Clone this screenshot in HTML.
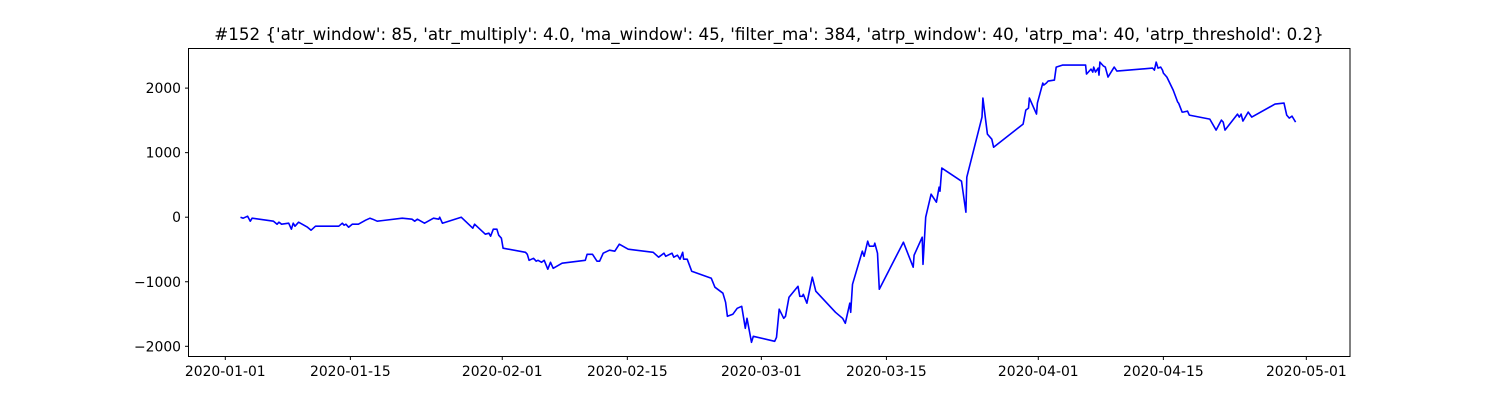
<!DOCTYPE html>
<html><head><meta charset="utf-8"><style>
html,body{margin:0;padding:0;background:#fff;}
svg{display:block;font-family:"DejaVu Sans","Liberation Sans",sans-serif;}
</style></head><body>
<svg id="chart" width="1500" height="400" viewBox="0 0 1500 400" xmlns="http://www.w3.org/2000/svg">
<rect x="0" y="0" width="1500" height="400" fill="#fff"/>
<text x="769" y="40" text-anchor="middle" font-size="16.7" fill="#000">#152 {'atr_window': 85, 'atr_multiply': 4.0, 'ma_window': 45, 'filter_ma': 384, 'atrp_window': 40, 'atrp_ma': 40, 'atrp_threshold': 0.2}</text>
<g id="ticks"></g>
<path id="line" fill="none" stroke="#0000ff" stroke-width="1.6" stroke-linejoin="round"/>
<rect x="188.5" y="48.5" width="1161.5" height="308" fill="none" stroke="#000" stroke-width="1"/>
</svg>
<script>
// days since 2020-01-01
const days = [1.7,2.0,2.5,2.8,3.0,5.4,5.8,6.0,6.3,7.1,7.4,7.6,7.8,8.2,9.2,9.6,10.1,12.7,13.1,13.3,13.5,13.8,14.2,14.9,15.7,16.2,16.5,17.0,19.8,20.9,21.2,21.5,22.3,23.3,23.9,24.0,24.3,26.4,27.7,27.9,29.1,29.5,29.7,30.0,30.4,30.6,30.9,31.1,33.6,33.8,34.0,34.5,34.8,35.0,35.4,35.7,36.1,36.4,36.7,37.7,40.3,40.5,41.1,41.6,41.9,42.3,43.0,43.6,44.1,45.1,47.9,48.5,49.1,49.3,50.0,50.2,50.6,50.9,51.2,51.3,51.7,52.2,54.4,54.8,55.7,56.0,56.2,56.8,57.3,57.8,58.0,58.2,58.4,58.9,59.1,61.5,61.7,62.0,62.5,62.7,63.1,64.1,64.3,64.6,64.7,65.1,65.7,66.1,68.3,69.1,69.4,69.9,70.0,70.2,71.3,71.5,71.9,72.1,72.6,72.7,73.0,73.2,75.9,77.0,77.1,78.0,78.1,78.4,79.0,79.6,79.9,80.0,80.2,82.4,82.9,83.0,84.7,84.8,85.3,85.8,86.0,89.3,89.6,89.9,90.0,90.8,90.9,91.5,91.6,91.9,92.1,92.8,93.0,93.7,96.3,96.4,96.9,97.1,97.2,97.4,97.7,97.8,97.9,98.3,98.5,98.8,99.5,99.8,103.8,104.0,104.2,104.4,104.7,104.9,105.0,105.4,106.1,106.6,106.7,107.1,107.2,107.7,107.9,110.2,110.9,111.5,111.7,111.9,113.3,113.5,113.7,113.9,114.5,114.9,117.5,118.5,118.8,119.1,119.4,119.8];
const values = [0,-16,16,-62,-16,-62,-109,-78,-109,-93,-186,-93,-140,-78,-155,-202,-140,-140,-93,-124,-109,-155,-109,-109,-47,-16,-31,-62,-16,-31,-62,-31,-93,-16,-31,0,-93,0,-171,-109,-264,-248,-295,-186,-186,-279,-326,-481,-543,-574,-667,-636,-682,-667,-698,-667,-806,-698,-791,-713,-667,-574,-574,-682,-682,-558,-512,-527,-419,-496,-543,-620,-558,-605,-558,-620,-589,-651,-543,-651,-651,-837,-946,-1085,-1178,-1318,-1535,-1504,-1411,-1380,-1550,-1721,-1566,-1938,-1845,-1922,-1860,-1426,-1566,-1535,-1240,-1070,-1225,-1225,-1194,-1333,-930,-1147,-1473,-1566,-1643,-1333,-1473,-1039,-527,-605,-372,-450,-450,-403,-558,-1116,-388,-775,-589,-310,-729,0,357,233,465,403,760,558,78,620,1550,1845,1287,1209,1085,1442,1659,1690,1845,1597,1767,2077,2046,2077,2108,2124,2325,2356,2356,2217,2294,2248,2325,2248,2310,2201,2403,2341,2325,2170,2325,2263,2310,2279,2403,2310,2325,2279,2232,2170,1969,1783,1767,1628,1628,1643,1581,1519,1349,1504,1473,1349,1597,1550,1597,1488,1628,1550,1752,1767,1581,1535,1566,1473];
const xTickDays = [0,14,31,45,60,74,91,105,121];
const xTickLabels = ["2020-01-01","2020-01-15","2020-02-01","2020-02-15","2020-03-01","2020-03-15","2020-04-01","2020-04-15","2020-05-01"];
const yTickValues = [-2000,-1000,0,1000,2000];
const yTickLabels = ["\u22122000","\u22121000","0","1000","2000"];

function xScale(d){ return 225.3 + d * 8.934; }
function yScale(v){ return 217.2 - v * 0.06455; }

const NS = "http://www.w3.org/2000/svg";
const g = document.getElementById("ticks");
xTickDays.forEach((d,i)=>{
  const x = xScale(d);
  const t = document.createElementNS(NS,"line");
  t.setAttribute("x1",x);t.setAttribute("x2",x);t.setAttribute("y1",356.5);t.setAttribute("y2",360);
  t.setAttribute("stroke","#000");
  
  
  g.appendChild(t);
  const l = document.createElementNS(NS,"text");
  l.setAttribute("x",x);l.setAttribute("y",376);l.setAttribute("text-anchor","middle");l.setAttribute("font-size","13.9");
  l.textContent = xTickLabels[i];
  
  
  g.appendChild(l);
});
yTickValues.forEach((v,i)=>{
  const y = yScale(v);
  const t = document.createElementNS(NS,"line");
  t.setAttribute("x1",185);t.setAttribute("x2",188.5);t.setAttribute("y1",y);t.setAttribute("y2",y);
  t.setAttribute("stroke","#000");
  
  
  g.appendChild(t);
  const l = document.createElementNS(NS,"text");
  l.setAttribute("x",181);l.setAttribute("y",y+5);l.setAttribute("text-anchor","end");l.setAttribute("font-size","13.9");
  l.textContent = yTickLabels[i];
  
  
  g.appendChild(l);
});
let dstr = "";
days.forEach((d,i)=>{ dstr += (i?"L":"M") + xScale(d).toFixed(1) + "," + yScale(values[i]).toFixed(1); });
document.getElementById("line").setAttribute("d", dstr);
</script>
</body></html>
